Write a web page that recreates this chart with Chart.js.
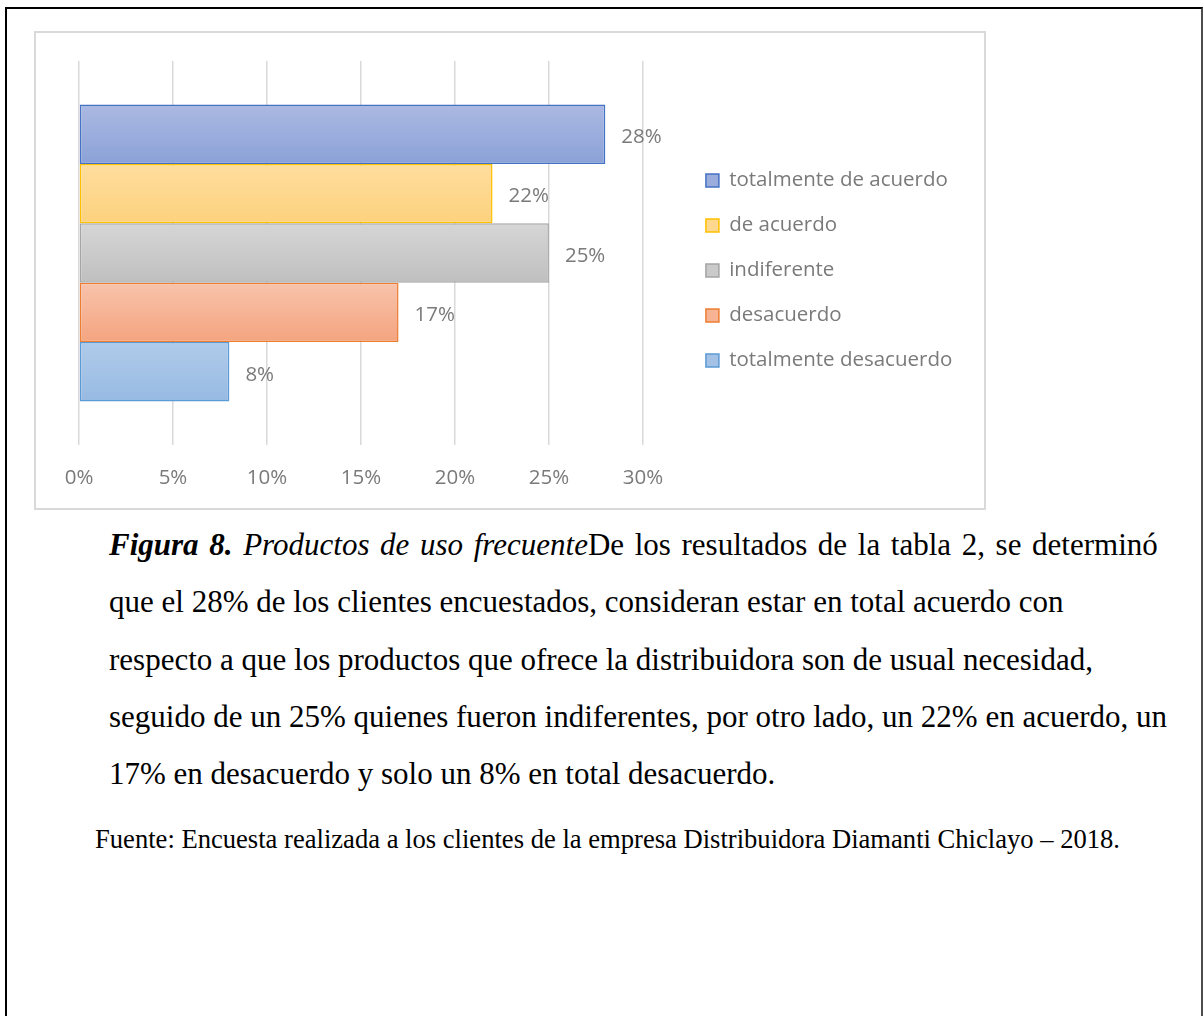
<!DOCTYPE html>
<html lang="es">
<head>
<meta charset="utf-8">
<title>Productos de uso frecuente</title>
<script src="https://cdn.jsdelivr.net/npm/chart.js@4/dist/chart.umd.min.js"></script>
<style>
  html, body { margin: 0; padding: 0; background: #fff; width: 1203px; height: 1016px; overflow: hidden; }
  .page {
    position: absolute; left: 5px; top: 7px; width: 1198px; height: 1100px;
    box-sizing: border-box;
    border-top: 2px solid #000; border-left: 2px solid #000; border-right: 2px solid #4d4d4d;
  }
  .chart-box {
    position: absolute; left: 34px; top: 31px; width: 952px; height: 479px;
    box-sizing: border-box; border: 2px solid #d9d9d9; background: #fff;
  }
  .chart-box canvas { position: absolute; left: 0; top: 0; }
  .caption {
    position: absolute; left: 109px; top: 516px;
    font-family: "Liberation Serif", "Times New Roman", serif;
    font-size: 31px; line-height: 57.3px; color: #000; white-space: nowrap;
  }
  .caption .first { word-spacing: 2.9px; }
  .source {
    position: absolute; left: 95px; top: 824px;
    font-family: "Liberation Serif", "Times New Roman", serif;
    font-size: 26.6px; line-height: 30px; color: #000; white-space: nowrap;
  }
</style>
</head>
<body>
<div class="page"></div>
<div class="chart-box"><canvas id="chart" width="948" height="475"></canvas></div>
<div class="caption"><span class="first"><b><i>Figura 8.</i></b> <i>Productos de uso frecuente</i>De los resultados de la tabla 2, se determinó</span><br>que el 28% de los clientes encuestados, consideran estar en total acuerdo con<br>respecto a que los productos que ofrece la distribuidora son de usual necesidad,<br>seguido de un 25% quienes fueron indiferentes, por otro lado, un 22% en acuerdo, un<br>17% en desacuerdo y solo un 8% en total desacuerdo.</div>
<div class="source">Fuente: Encuesta realizada a los clientes de la empresa Distribuidora Diamanti Chiclayo – 2018.</div>
<script>
// Survey answers (percent of customers)
const categories = [''];
const seriesNames = ['totalmente de acuerdo', 'de acuerdo', 'indiferente', 'desacuerdo', 'totalmente desacuerdo'];
const seriesValues = [28, 22, 25, 17, 8];
const tickValues = [0, 5, 10, 15, 20, 25, 30];

// Series styling: outline plus a light-to-dark vertical fill
const borderColors = ['#4472c4', '#ffc000', '#a5a5a5', '#ed7d31', '#5b9bd5'];
const fillTop = ['#abb9e2', '#fedd9e', '#d6d6d6', '#f8c3ac', '#b0cbea'];
const fillBottom = ['#8ba2d7', '#fdd27e', '#bfbfbf', '#f4a47f', '#97bae3'];
const fillMid = ['#9aaddc', '#fed88e', '#cacaca', '#f6b495', '#a3c2e6'];

const textColor = '#7a7a7a';
const uiFont = { family: '"Open Sans", sans-serif', size: 20.5 };

// Paints each bar with its own top-to-bottom gradient
const barGradients = {
  id: 'barGradients',
  beforeDatasetsDraw(chart) {
    const ctx = chart.ctx;
    chart.data.datasets.forEach((ds, i) => {
      chart.getDatasetMeta(i).data.forEach(bar => {
        const { y, height } = bar.getProps(['y', 'height'], true);
        const g = ctx.createLinearGradient(0, y - height / 2, 0, y + height / 2);
        g.addColorStop(0, fillTop[i]);
        g.addColorStop(1, fillBottom[i]);
        bar.options = Object.assign({}, bar.options, { backgroundColor: g });
      });
    });
  }
};

// Percentage written just past the end of each bar
const valueLabels = {
  id: 'valueLabels',
  afterDatasetsDraw(chart) {
    const ctx = chart.ctx;
    ctx.save();
    ctx.font = uiFont.size + 'px ' + uiFont.family;
    ctx.fillStyle = textColor;
    ctx.textAlign = 'left';
    ctx.textBaseline = 'middle';
    chart.data.datasets.forEach((ds, i) => {
      chart.getDatasetMeta(i).data.forEach((bar, j) => {
        ctx.fillText(ds.data[j] + '%', bar.x + 16, bar.y + 3);
      });
    });
    ctx.restore();
  }
};

new Chart(document.getElementById('chart'), {
  type: 'bar',
  data: {
    labels: categories,
    datasets: seriesNames.map((name, i) => ({
      label: name,
      data: [seriesValues[i]],
      backgroundColor: fillMid[i],
      borderColor: borderColors[i],
      borderWidth: 1.5,
      borderSkipped: false,
      barPercentage: 1,
      categoryPercentage: 0.7734
    }))
  },
  options: {
    indexAxis: 'y',
    responsive: false,
    animation: false,
    events: [],
    layout: { padding: { left: 43, top: 0, right: 21.75, bottom: 0 } },
    scales: {
      x: {
        min: 0,
        max: 30,
        afterBuildTicks: scale => { scale.ticks = tickValues.map(v => ({ value: v })); },
        afterFit: scale => { scale.height = 63; },
        ticks: { callback: v => v + '%', color: textColor, font: uiFont, padding: 21, maxRotation: 0 },
        grid: { color: '#d9d9d9', lineWidth: 1.5, drawTicks: false },
        border: { display: false }
      },
      y: { display: false },
      // empty bands above the plot and between the plot and the legend
      topBand: {
        type: 'linear', axis: 'x', position: 'top', display: false,
        afterFit: scale => { scale.height = 28; }
      },
      sideBand: {
        type: 'linear', axis: 'y', position: 'right', display: false,
        afterFit: scale => { scale.width = 38.5; }
      }
    },
    plugins: {
      legend: {
        position: 'right',
        labels: { boxWidth: 13, boxHeight: 13, padding: 24.5, color: textColor, font: uiFont }
      },
      tooltip: { enabled: false }
    }
  },
  plugins: [barGradients, valueLabels]
});
</script>
</body>
</html>
